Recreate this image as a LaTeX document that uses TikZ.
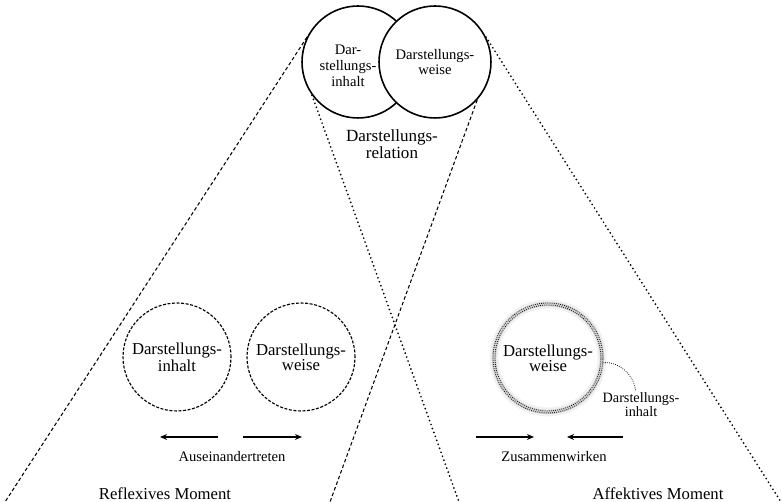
\documentclass[tikz,border=0pt]{standalone}
\usepackage{fontspec}
\setmainfont{Liberation Serif}
\usetikzlibrary{arrows.meta}

\newcommand{\smalltext}{\fontsize{8.3}{9}\selectfont}
\newcommand{\midtext}{\fontsize{9.5}{8.6}\selectfont}

\tikzset{
  topcircle/.style={circle, draw, line width=0.9pt, fill=white, minimum size=2.24cm, inner sep=0pt},
  lowcircle/.style={circle, draw, line width=0.65pt, dash pattern=on 1.7pt off 0.9pt, minimum size=2.16cm, inner sep=0pt, align=center, font=\midtext},
  reflline/.style={line width=0.6pt, dash pattern=on 2pt off 1.4pt},
  affline/.style={line width=1.1pt, line cap=round, dash pattern=on 0pt off 2.4pt},
  finedots/.style={line width=0.6pt, line cap=round, dash pattern=on 0pt off 1.2pt},
  moveto/.style={-{Stealth[length=4pt,width=3.4pt]}, line width=0.7pt},
  textlabel/.style={align=center, inner sep=1pt}
}

\begin{document}
\begin{tikzpicture}[x=0.02cm, y=-0.02cm]
\useasboundingbox (0,0) rectangle (782,502);

% Darstellungsrelation
\node[topcircle] (inhaltTop) at (358,62) {};
\node[topcircle, align=center, font=\smalltext] (weiseTop) at (435,62) {Darstellungs-\\weise};
\node[textlabel, font=\smalltext] (inhaltTopText) at (348,66) {Dar-\\stellungs-\\inhalt};
\node[textlabel, font=\fontsize{9.7}{9.7}\selectfont] (relation) at (392,144) {Darstellungs-\\relation};

% free ends at the lower edge
\coordinate (reflLeft) at (5,502);
\coordinate (reflRight) at (330,502);
\coordinate (affLeft) at (459,502);
\coordinate (affRight) at (781,502);

\draw[reflline] (inhaltTop.154) -- (reflLeft);
\draw[reflline] (weiseTop.-42) -- (reflRight);
\draw[affline] (inhaltTop.216) -- (affLeft);
\draw[affline] (weiseTop.26) -- (affRight);

% Reflexives Moment
\node[lowcircle] (inhaltRefl) at (177,357) {Darstellungs-\\inhalt};
\node[lowcircle] (weiseRefl) at (301,357) {Darstellungs-\\weise};
\node[textlabel, font=\smalltext] (auseinander) at (232,457) {Auseinandertreten};
\coordinate (apartMid1) at (218,437);
\coordinate (apartEnd1) at (160,437);
\coordinate (apartMid2) at (243,437);
\coordinate (apartEnd2) at (302,437);
\draw[moveto] (apartMid1) -- (apartEnd1);
\draw[moveto] (apartMid2) -- (apartEnd2);
\node[textlabel, font=\midtext] (reflexiv) at (165,494) {Reflexives Moment};

% Affektives Moment
\draw[gray!12, line width=5pt] (548,358) circle[radius=1.08cm];
\draw[gray!35, line width=2.4pt] (548,358) circle[radius=1.08cm];
\node[circle, minimum size=2.2cm, inner sep=0pt, align=center, font=\midtext] (weiseAff) at (548,358) {Darstellungs-\\weise};
\draw[finedots] (weiseAff.center) circle[radius=1.1cm];
\draw[finedots] (weiseAff.center) circle[radius=1.06cm];
\node[textlabel, font=\fontsize{8.1}{8}\selectfont] (inhaltAff) at (641,405) {Darstellungs-\\inhalt};
\draw[finedots] (weiseAff.-5) to[out=5, in=100] (inhaltAff.110);
\node[textlabel, font=\smalltext] (zusammen) at (554,457) {Zusammenwirken};
\coordinate (togetherStart1) at (476,437);
\coordinate (togetherEnd1) at (534,437);
\coordinate (togetherStart2) at (623,437);
\coordinate (togetherEnd2) at (567,437);
\draw[moveto] (togetherStart1) -- (togetherEnd1);
\draw[moveto] (togetherStart2) -- (togetherEnd2);
\node[textlabel, font=\midtext] (affektiv) at (658,494) {Affektives Moment};
\end{tikzpicture}
\end{document}
